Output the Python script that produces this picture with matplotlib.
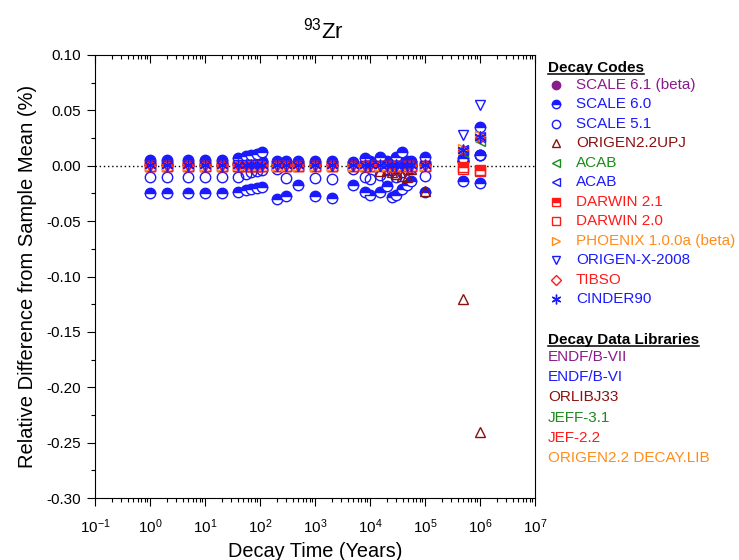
import matplotlib
matplotlib.use("Agg")
import matplotlib.pyplot as plt
from matplotlib.ticker import MultipleLocator, LogLocator, FormatStrFormatter, NullFormatter
from matplotlib.lines import Line2D

plt.rcParams['font.family'] = ['Liberation Sans', 'DejaVu Sans']
plt.rcParams['mathtext.fontset'] = 'custom'
plt.rcParams['mathtext.rm'] = 'Liberation Sans'
plt.rcParams['mathtext.it'] = 'Liberation Sans:italic'

# ---------------- data ----------------
times = [1, 2, 5, 10, 20, 40, 55, 70, 90, 110, 200, 300, 500, 1000, 2000, 5000, 8000,
         10000, 15000, 20000, 25000, 30000, 38000, 47000, 55000, 100000, 500000, 1000000]

scale61 = [0.002, 0.002, 0.002, 0.002, 0.002, 0.002, 0.002, 0.002, 0.002, 0.002, 0.002, 0.002, 0.002, 0.002,
           0.002, 0.002, 0.002, 0.002, 0.002, 0.002, 0.002, 0.002, 0.002, 0.002, 0.002, 0.002, 0.0045, 0.0093]
scale60_hi = [0.005, 0.005, 0.005, 0.005, 0.005, 0.007, 0.009, 0.010, 0.011, 0.012, 0.004, 0.004, 0.004, 0.004,
              0.004, 0.003, 0.007, 0.004, 0.008, 0.004, 0.003, 0.008, 0.012, 0.004, 0.004, 0.008, 0.007, 0.035]
scale60_mid = [0.001, 0.001, 0.001, 0.001, 0.001, 0.002, 0.003, 0.003, 0.004, 0.004, 0.001, 0.001, 0.001, 0.001,
               0.001, 0.001, 0.002, 0.001, 0.002, 0.001, 0.001, 0.002, 0.003, 0.001, 0.001, 0.002, 0.0045, 0.0093]
scale60_lo = [-0.025, -0.025, -0.025, -0.025, -0.025, -0.024, -0.022, -0.021, -0.020, -0.019, -0.030, -0.027,
              -0.017, -0.027, -0.029, -0.017, -0.024, -0.026, -0.024, -0.018, -0.028, -0.026, -0.021, -0.017,
              -0.014, -0.024, -0.014, -0.0156]
scale51 = [-0.010, -0.010, -0.010, -0.010, -0.010, -0.010, -0.007, -0.006, -0.005, -0.004, -0.003, -0.011,
           0.002, -0.011, -0.012, -0.003, -0.010, -0.012, -0.008, -0.012, -0.004, -0.010, -0.006, -0.003,
           -0.002, -0.009, 0.0045, 0.0093]
origen22 = [0.000, 0.000, 0.000, 0.000, 0.000, 0.000, 0.000, 0.000, 0.000, 0.000, 0.000, 0.000, 0.000, 0.000,
            0.000, 0.000, 0.000, 0.000, -0.005, -0.004, -0.006, -0.007, -0.009, -0.010, -0.003, -0.023,
            -0.120, -0.240]
acab_green = [0.000, 0.000, 0.000, 0.000, 0.000, 0.001, 0.001, 0.001, 0.001, 0.001, 0.000, 0.000, 0.000, 0.000,
              0.000, 0.000, 0.000, 0.000, 0.000, 0.000, 0.000, 0.000, 0.000, 0.000, 0.000, 0.000, 0.012, 0.022]
acab_blue = [0.000, 0.000, 0.000, 0.000, 0.000, 0.001, 0.001, 0.001, 0.001, 0.001, 0.000, 0.000, 0.000, 0.000,
             0.000, 0.000, 0.000, 0.000, 0.000, 0.000, 0.000, 0.000, 0.000, 0.000, 0.000, 0.000, 0.014, 0.026]
darwin21 = [0.000, 0.000, 0.000, 0.000, 0.000, 0.000, 0.000, 0.000, 0.000, 0.000, 0.000, 0.000, 0.000, 0.000,
            0.000, 0.000, 0.000, 0.000, 0.000, 0.000, 0.000, 0.000, 0.000, 0.000, 0.000, 0.000, -0.0015, -0.004]
darwin20 = [0.000, 0.000, 0.000, 0.000, 0.000, 0.000, 0.000, 0.000, 0.000, 0.000, 0.000, 0.000, 0.000, 0.000,
            0.000, 0.000, 0.000, 0.000, 0.000, 0.000, 0.000, 0.000, 0.000, 0.000, 0.000, 0.000, -0.0027, -0.005]
phoenix = [0.000, 0.000, 0.000, 0.000, 0.000, 0.001, 0.001, 0.001, 0.001, 0.001, 0.000, 0.000, 0.000, 0.000,
           0.000, 0.000, 0.000, 0.000, 0.000, 0.000, 0.000, 0.000, 0.000, 0.000, 0.000, 0.000, 0.015, 0.027]
origenx = [0.000, 0.000, 0.000, 0.000, 0.000, 0.001, 0.001, 0.001, 0.001, 0.001, 0.000, 0.000, 0.000, 0.000,
           0.000, 0.000, 0.000, 0.000, 0.000, 0.000, 0.000, 0.000, 0.000, 0.000, 0.000, 0.000, 0.028, 0.055]
tibso = [0.001, 0.001, 0.001, 0.001, 0.001, 0.001, 0.001, 0.001, 0.001, 0.001, 0.001, 0.001, 0.001, 0.001,
         0.001, 0.001, 0.001, 0.001, 0.001, 0.001, 0.001, 0.001, 0.001, 0.001, 0.001, 0.001, 0.014, 0.025]
cinder90 = [0.001, 0.001, 0.001, 0.001, 0.001, 0.001, 0.001, 0.001, 0.001, 0.001, 0.001, 0.001, 0.001, 0.001,
            0.001, 0.001, 0.001, 0.001, 0.001, 0.001, 0.001, 0.001, 0.001, 0.001, 0.001, 0.001, 0.014, 0.026]

code_labels = ["SCALE 6.1 (beta)", "SCALE 6.0", "SCALE 5.1", "ORIGEN2.2UPJ", "ACAB", "ACAB",
               "DARWIN 2.1", "DARWIN 2.0", "PHOENIX 1.0.0a (beta)", "ORIGEN-X-2008", "TIBSO", "CINDER90"]
library_labels = ["ENDF/B-VII", "ENDF/B-VI", "ORLIBJ33", "JEFF-3.1", "JEF-2.2", "ORIGEN2.2 DECAY.LIB"]

PURPLE = '#8B1A8B'
BLUE = '#1A1AFF'
DRED = '#8B1010'
GREEN = '#1A8B1A'
RED = '#FF1A1A'
ORANGE = '#FF8C1A'
ASTER = (6, 2, 0)

styles = [
    dict(marker='o', color=PURPLE, fillstyle='full', mfc=PURPLE),
    dict(marker='o', color=BLUE, fillstyle='top', mfc=BLUE),
    dict(marker='o', color=BLUE, fillstyle='none', mfc='none'),
    dict(marker='^', color=DRED, fillstyle='none', mfc='none'),
    dict(marker='<', color=GREEN, fillstyle='none', mfc='none'),
    dict(marker='<', color=BLUE, fillstyle='none', mfc='none'),
    dict(marker='s', color=RED, fillstyle='top', mfc=RED),
    dict(marker='s', color=RED, fillstyle='none', mfc='none'),
    dict(marker='>', color=ORANGE, fillstyle='none', mfc='none'),
    dict(marker='v', color=BLUE, fillstyle='none', mfc='none'),
    dict(marker='D', color=RED, fillstyle='none', mfc='none'),
    dict(marker=ASTER, color=BLUE, fillstyle='full', mfc=BLUE),
]
lib_colors = [PURPLE, BLUE, DRED, GREEN, RED, ORANGE]

fig = plt.figure(figsize=(7.39, 5.60), dpi=100)
ax = fig.add_axes([95/739, 1-498/560, 440/739, 443/560])

ax.axhline(0, color='black', linestyle=(0, (1, 2)), linewidth=1.0, zorder=1)

def plot_series(vals, st, ms=7.5, mew=1.0):
    kw = dict(linestyle='none', marker=st['marker'], color=st['color'], markeredgecolor=st['color'],
              fillstyle=st['fillstyle'], markersize=ms, markeredgewidth=mew, zorder=3)
    if st['fillstyle'] == 'top':
        kw['markerfacecolor'] = st['mfc']
        kw['markerfacecoloralt'] = 'white'
    elif st['fillstyle'] == 'full':
        kw['markerfacecolor'] = st['mfc']
    ax.plot(times, vals, **kw)

plot_series(scale61, styles[0])
plot_series(scale60_mid, styles[1])
plot_series(scale60_hi, styles[1])
plot_series(scale60_lo, styles[1])
plot_series(scale51, styles[2])
plot_series(origen22, styles[3], ms=7)
plot_series(acab_green, styles[4], ms=7)
plot_series(acab_blue, styles[5], ms=7)
plot_series(darwin21, styles[6], ms=6.5)
plot_series(darwin20, styles[7], ms=6.5)
plot_series(phoenix, styles[8], ms=7)
plot_series(origenx, styles[9], ms=7.5)
plot_series(tibso, styles[10], ms=5.5)
plot_series(cinder90, styles[11], ms=8.5)

ax.set_xscale('log')
ax.set_xlim(0.1, 1e7)
ax.set_ylim(-0.30, 0.10)
ax.yaxis.set_major_locator(MultipleLocator(0.05))
ax.yaxis.set_minor_locator(MultipleLocator(0.025))
ax.yaxis.set_major_formatter(FormatStrFormatter('%.2f'))
ax.xaxis.set_major_locator(LogLocator(base=10, numticks=20))
ax.xaxis.set_minor_locator(LogLocator(base=10, subs=range(2, 10), numticks=200))
ax.xaxis.set_minor_formatter(NullFormatter())

ax.tick_params(axis='both', which='major', direction='out', length=6, width=0.8, labelsize=11,
               top=False, right=False, pad=4)
ax.tick_params(axis='both', which='minor', direction='out', length=3, width=0.8, top=False, right=False)
ax.tick_params(axis='x', which='major', pad=8)
ax.tick_params(axis='x', which='both', top=True)
ax.tick_params(axis='x', which='minor', top=True)
for sp in ax.spines.values():
    sp.set_linewidth(0.8)
# top ticks point inward (into the plot)
for t in ax.xaxis.get_major_ticks() + ax.xaxis.get_minor_ticks():
    t.tick2line.set_marker(matplotlib.markers.TICKDOWN)

ax.set_xlabel('Decay Time (Years)', fontsize=14.3, labelpad=4)
ax.set_ylabel('Relative Difference from Sample Mean (%)', fontsize=14.5, labelpad=7)
ax.set_title(r'$^{93}$Zr', fontsize=16, pad=12, x=0.52)

# -------- custom legend --------
def fx(px):
    return px / 739

def fy(py):
    return 1 - py / 560

fig.canvas.draw()
renderer = fig.canvas.get_renderer()

def heading(text, px, py):
    t = fig.text(fx(px), fy(py), text, fontsize=11, fontweight='bold', va='baseline', ha='left')
    bb = t.get_window_extent(renderer)
    ypix = fy(py) * 560 - 2.0
    fig.lines.append(Line2D([bb.x0, bb.x1], [ypix, ypix], transform=None, color='black', linewidth=1.1))

heading('Decay Codes', 548, 72)
y0 = 85
dy = 19.45
for i, (lab, st) in enumerate(zip(code_labels, styles)):
    py = y0 + i * dy
    ms = 6
    if st['marker'] == ASTER:
        ms = 7
    if st['marker'] == 'D':
        ms = 5
    kw = dict(linestyle='none', marker=st['marker'], color=st['color'], markeredgecolor=st['color'],
              fillstyle=st['fillstyle'], markersize=ms, markeredgewidth=1.0,
              transform=fig.transFigure, clip_on=False)
    if st['fillstyle'] == 'top':
        kw['markerfacecolor'] = st['mfc']
        kw['markerfacecoloralt'] = 'white'
    elif st['fillstyle'] == 'full':
        kw['markerfacecolor'] = st['mfc']
    fig.lines.append(Line2D([fx(556)], [fy(py)], **kw))
    fig.text(fx(576), fy(py), lab, color=st['color'], fontsize=11, va='center', ha='left')

heading('Decay Data Libraries', 548, 344)
for i, (lab, c) in enumerate(zip(library_labels, lib_colors)):
    py = 357 + i * 20.2
    fig.text(fx(548), fy(py), lab, color=c, fontsize=11, va='center', ha='left')

fig.savefig('out.png', dpi=100)
